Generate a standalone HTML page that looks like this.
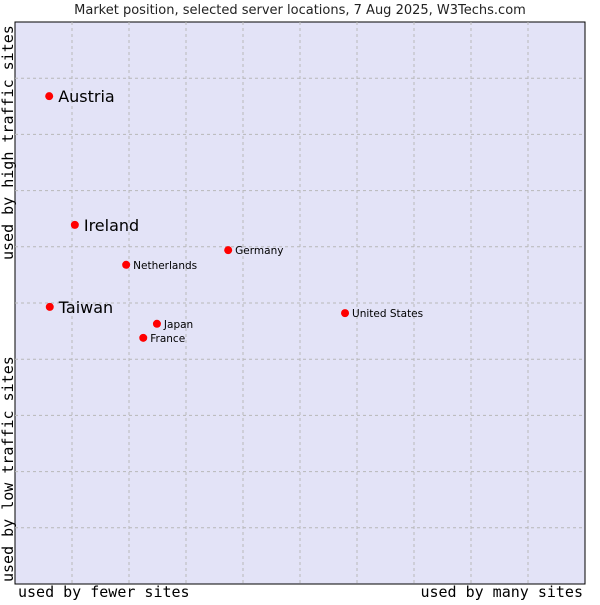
<!DOCTYPE html>
<html><head><meta charset="utf-8"><style>
body{margin:0;background:#fff}
svg text{font-family:"DejaVu Sans","Liberation Sans",sans-serif}
.mono{font-family:"DejaVu Sans Mono","Liberation Mono",monospace}
</style></head><body>
<svg id="c" width="600" height="600">
<text x="300" y="14" text-anchor="middle" font-size="13" fill="#222">Market position, selected server locations, 7 Aug 2025, W3Techs.com</text>
<rect x="15" y="22" width="570" height="562" fill="#e3e3f7" stroke="#000" stroke-width="1"/>
<g id="grid"></g>
<g id="pts"></g>
<text class="mono" x="18" y="597" font-size="15" fill="#000">used by fewer sites</text>
<text class="mono" x="583" y="597" font-size="15" fill="#000" text-anchor="end">used by many sites</text>
<text class="mono" transform="translate(13,582) rotate(-90)" font-size="15" fill="#000">used by low traffic sites</text>
<text class="mono" transform="translate(13,260) rotate(-90)" font-size="15" fill="#000">used by high traffic sites</text>
</svg>
<script>
const countries=["Austria","Ireland","Netherlands","Germany","Taiwan","Japan","France","United States"];
const xValues=[0.6,1.05,1.95,3.74,0.61,2.49,2.25,5.79];
const yValues=[8.68,6.39,5.68,5.94,4.93,4.63,4.38,4.82];
const bigLabel=[true,true,false,false,true,false,false,false];
const NS="http://www.w3.org/2000/svg";
const X=v=>15+v*57, Y=v=>584-v*56.2;
const grid=document.getElementById('grid'), pts=document.getElementById('pts');
for(let i=1;i<10;i++){
  const v=document.createElementNS(NS,'line');
  v.setAttribute('x1',X(i));v.setAttribute('x2',X(i));v.setAttribute('y1',22);v.setAttribute('y2',584);
  v.setAttribute('stroke','#b8b8b8');v.setAttribute('stroke-dasharray','3,3');
  
  
  grid.appendChild(v);
  const h=document.createElementNS(NS,'line');
  h.setAttribute('y1',Y(i));h.setAttribute('y2',Y(i));h.setAttribute('x1',15);h.setAttribute('x2',585);
  h.setAttribute('stroke','#b8b8b8');h.setAttribute('stroke-dasharray','3,3');
  
  
  grid.appendChild(h);
}
countries.forEach((c,i)=>{
  const x=X(xValues[i]), y=Y(yValues[i]);
  const p=document.createElementNS(NS,'circle');
  p.setAttribute('cx',x);p.setAttribute('cy',y);p.setAttribute('r',4);p.setAttribute('fill','#f00');
  
  
  pts.appendChild(p);
  const t=document.createElementNS(NS,'text');
  t.setAttribute('x',x+(bigLabel[i]?9:7));t.setAttribute('y',y+(bigLabel[i]?6:4));
  t.setAttribute('font-size',bigLabel[i]?16:10.5);t.setAttribute('fill','#000');
  t.textContent=c;
  
  
  pts.appendChild(t);
});
</script>
</body></html>
